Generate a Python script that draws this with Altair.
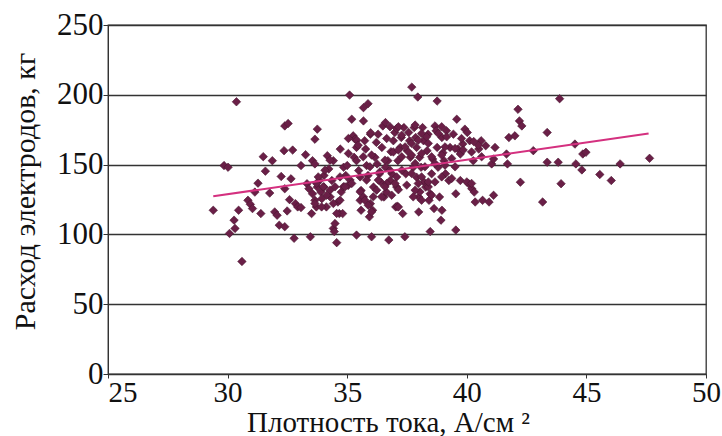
import altair as alt
import pandas as pd

# Scatter data: current density (A/cm2) vs electrode consumption (kg)
x_vals = [
    29.40, 29.85, 30.02, 30.37, 30.08, 30.27, 30.31, 30.46, 30.60, 30.85, 30.95, 31.04, 31.14, 31.27,
    31.39, 31.49, 31.58, 31.76, 31.87, 31.97, 32.07, 32.24, 32.16, 32.39, 32.36, 32.72, 32.39, 32.53,
    32.39, 32.49, 32.59, 32.65, 32.78, 32.84, 32.93, 33.07, 33.07, 33.26, 33.32, 33.40, 33.46, 33.51,
    33.55, 33.65, 33.65, 33.75, 33.55, 33.65, 33.71, 33.75, 33.84, 33.90, 33.94, 34.03, 34.03, 34.13,
    34.17, 34.23, 34.29, 34.36, 34.42, 34.42, 34.46, 34.56, 34.61, 34.67, 34.81, 34.71, 34.75, 34.85,
    34.94, 35.00, 35.04, 35.10, 35.19, 35.25, 35.33, 35.29, 35.39, 35.39, 35.48, 35.54, 35.58, 35.58,
    35.68, 35.68, 35.87, 35.68, 35.73, 35.77, 35.81, 35.87, 35.93, 35.39, 36.02, 35.97, 36.06, 35.97,
    36.10, 36.16, 36.25, 36.22, 36.29, 36.35, 36.41, 36.45, 36.49, 36.60, 36.54, 36.64, 36.60, 36.70,
    36.74, 36.80, 36.87, 36.83, 36.93, 36.99, 37.03, 37.07, 37.14, 37.12, 37.22, 37.26, 37.32, 37.37,
    37.41, 37.45, 37.51, 37.57, 37.61, 37.64, 37.70, 37.76, 37.80, 37.86, 37.90, 37.90, 37.95, 37.99,
    37.99, 38.03, 38.09, 38.15, 38.19, 38.22, 38.28, 38.34, 38.38, 38.42, 38.47, 38.47, 38.53, 38.57,
    38.63, 38.67, 38.72, 38.76, 38.76, 38.80, 38.86, 38.92, 38.96, 38.96, 39.00, 39.05, 39.11, 39.15,
    39.25, 39.30, 39.44, 39.54, 39.54, 39.58, 39.63, 39.73, 39.73, 39.83, 39.92, 40.02, 40.08, 40.12,
    40.21, 40.27, 40.31, 40.35, 40.50, 40.60, 40.66, 40.79, 40.93, 41.04, 41.12, 41.12, 41.18, 41.66,
    41.70, 41.76, 42.01, 42.14, 42.20, 42.30, 42.24, 42.78, 43.17, 43.36, 43.36, 43.82, 43.88, 43.94,
    44.52, 44.56, 44.81, 44.85, 44.98, 45.56, 46.04, 46.41, 47.64,
    35.05, 35.40, 35.98, 35.46, 36.79, 37.07, 36.65, 35.05, 34.28, 34.07, 33.79, 33.72, 35.67, 36.02,
    36.58, 36.93, 35.95, 36.37, 36.79, 35.54, 35.12, 35.81, 36.30, 36.65, 37.07, 34.70, 34.84,
    34.00, 34.28, 34.49, 34.14, 33.65, 34.42, 33.93, 34.70, 34.56, 34.49, 37.09, 35.54, 35.74, 36.02,
    35.88, 36.09, 36.23, 36.58, 36.44, 36.86, 37.00, 35.19, 34.91,
    37.14, 37.84, 37.28, 38.95, 38.81, 39.16, 39.78, 40.48, 38.11, 38.32, 37.97, 37.69, 37.42, 37.14,
    38.39, 39.09, 39.51, 39.85, 40.20, 37.28, 37.69, 38.11, 38.53, 38.95, 39.37, 37.84, 38.25, 38.67,
    39.09, 39.51, 37.28, 37.69, 38.11, 38.95, 39.37, 37.97, 38.39, 37.49, 40.29, 40.62, 40.00,
    38.39, 38.67, 38.04, 37.76, 38.11, 38.53, 37.84, 40.20, 37.14,
]
y_vals = [
    117.3, 149.3, 148.1, 195.0, 100.7, 110.2, 104.3, 117.3, 80.6, 124.4, 121.6, 118.5, 130.3, 136.7,
    114.9, 155.7, 145.3, 129.6, 152.8, 116.1, 113.7, 141.5, 106.6, 105.5, 160.0, 160.4, 177.7, 179.4,
    132.7, 116.8, 124.9, 139.8, 97.2, 122.0, 119.7, 119.2, 149.3, 157.1, 136.3, 132.7, 98.3, 114.9,
    152.8, 150.5, 168.2, 175.4, 129.1, 124.4, 119.7, 133.9, 138.6, 130.3, 125.6, 142.2, 133.9, 119.7,
    156.4, 146.9, 126.8, 138.6, 152.8, 104.3, 102.0, 94.1, 123.2, 114.9, 114.9, 161.1, 130.3, 148.1,
    142.2, 149.3, 135.1, 199.8, 182.5, 170.6, 168.2, 155.2, 152.8, 162.3, 145.7, 124.4, 117.3, 131.5,
    126.8, 190.8, 193.6, 181.3, 167.1, 161.1, 149.3, 142.2, 112.6, 99.5, 98.3, 122.0, 117.3, 171.8,
    133.9, 155.2, 150.5, 165.9, 171.8, 143.4, 137.4, 162.3, 177.7, 180.1, 126.8, 130.3, 148.1, 152.8,
    96.0, 138.6, 143.4, 159.2, 167.1, 173.0, 119.7, 133.9, 132.0, 152.8, 162.3, 169.4, 114.9, 176.5,
    98.3, 143.4, 159.9, 173.0, 167.1, 155.2, 205.5, 148.1, 176.5, 169.4, 162.3, 141.0, 198.4, 126.8,
    116.1, 155.2, 148.1, 176.5, 167.1, 137.4, 133.9, 159.9, 171.8, 124.4, 129.1, 102.0, 143.4, 154.0,
    118.5, 177.7, 174.2, 195.5, 162.3, 148.1, 126.8, 110.2, 117.3, 169.4, 158.5, 152.8, 143.4, 174.2,
    138.6, 162.3, 171.8, 103.1, 129.1, 182.5, 161.1, 157.6, 138.6, 164.7, 175.4, 173.0, 136.3, 167.1,
    132.7, 152.8, 130.3, 123.2, 161.1, 167.1, 124.4, 163.5, 123.2, 150.5, 154.0, 128.0, 162.3, 157.6,
    150.5, 169.4, 170.6, 189.6, 181.3, 177.7, 137.4, 160.0, 123.2, 173.0, 151.7, 151.7, 197.2, 136.3,
    164.7, 150.5, 146.2, 157.6, 158.8, 142.9, 138.6, 150.5, 154.5,
    168.7, 167.5, 172.8, 163.9, 177.1, 175.9, 168.7, 158.0, 153.2, 146.0, 141.2, 136.5, 155.6, 156.8,
    153.2, 159.1, 148.4, 144.8, 146.0, 141.2, 138.9, 138.9, 138.9, 136.5, 141.2, 141.2, 134.1,
    134.1, 131.7, 134.1, 128.1, 122.1, 122.1, 119.7, 124.5, 115.0, 107.8, 120.2, 130.5, 124.5, 116.1,
    120.9, 126.9, 131.7, 134.1, 126.9, 128.1, 136.5, 136.5, 134.1,
    177.1, 178.3, 171.1, 177.1, 172.3, 169.9, 168.7, 163.9, 172.3, 169.9, 167.5, 165.2, 162.7, 160.4,
    165.2, 162.7, 161.6, 160.4, 159.1, 155.6, 156.8, 158.0, 155.6, 156.8, 154.4, 150.8, 148.4, 150.8,
    149.6, 148.4, 146.0, 143.7, 141.2, 141.2, 140.1, 136.5, 134.1, 135.3, 166.5, 155.6, 137.6,
    137.6, 137.6, 130.5, 126.9, 124.5, 128.1, 131.7, 136.5, 119.7,
]

# Trend line end points
trend_x = [29.4, 47.6]
trend_y = [127.3, 172.3]

x_ticks = [25, 30, 35, 40, 45, 50]
y_ticks = [0, 50, 100, 150, 200, 250]

points = pd.DataFrame({"x": x_vals, "y": y_vals})
trend = pd.DataFrame({"x": trend_x, "y": trend_y})

FONT = "Liberation Serif"

x_scale = alt.Scale(domain=[25, 50], nice=False, zero=False)
y_scale = alt.Scale(domain=[0, 250], nice=False)

x_axis = alt.Axis(
    values=x_ticks, grid=False, tickSize=4, tickColor="#333333", domainColor="#333333",
    labelFont=FONT, labelFontSize=29, labelColor="#111111", labelPadding=0,
    labelBaseline="top",
    labelAlign={"condition": {"test": "datum.value == 25", "value": "left"}, "value": "center"},
    labelFlush=False, labelOverlap=False,
    title="Плотность тока, А/см ²", titleFont=FONT, titleFontSize=29, titleFontWeight="normal",
    titleColor="#111111", titleX=280, titleY=57, titleAlign="center", titleBaseline="alphabetic",
)
y_axis = alt.Axis(
    values=y_ticks, grid=True, gridColor="#333333", gridWidth=1.3, tickSize=5,
    tickColor="#333333", domainColor="#333333",
    labelFont=FONT, labelFontSize=31, labelColor="#111111", labelPadding=0,
    labelFlush=False, labelOverlap=False,
    title="Расход электродов, кг", titleFont=FONT, titleFontSize=30, titleFontWeight="normal",
    titleColor="#111111", titleX=-68, titleY=166, titleAlign="center", titleBaseline="bottom",
    titleAngle=270,
)

scatter = alt.Chart(points).mark_point(
    shape="diamond", filled=True, size=72, color="#6a1f47", stroke="#4a1530",
    strokeWidth=0.6, opacity=1,
).encode(
    x=alt.X("x:Q", scale=x_scale, axis=x_axis),
    y=alt.Y("y:Q", scale=y_scale, axis=y_axis),
)

line = alt.Chart(trend).mark_line(color="#d4307f", strokeWidth=2).encode(
    x=alt.X("x:Q", scale=x_scale),
    y=alt.Y("y:Q", scale=y_scale),
)

chart = alt.layer(scatter, line).properties(
    width=598, height=349,
    autosize=alt.AutoSizeParams(type="none"),
    padding={"left": 108, "top": 25, "right": 16, "bottom": 62},
    background="white",
).configure_view(stroke="#333333", strokeWidth=1.3)

chart.save("out.html", embed_options={"renderer": "svg", "actions": False})
